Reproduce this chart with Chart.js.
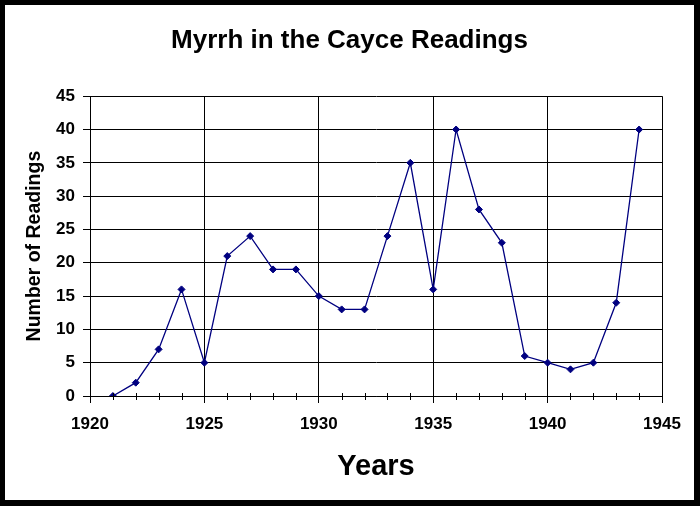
<!DOCTYPE html>
<html>
<head>
<meta charset="utf-8">
<script src="https://cdn.jsdelivr.net/npm/chart.js@4.4.0/dist/chart.umd.min.js"></script>
<style>
    html, body { margin: 0; padding: 0; background: #fff; }
    #frame {
        width: 700px;
        height: 506px;
        box-sizing: border-box;
        border-style: solid;
        border-color: #000;
        border-width: 5px 6px 6px 5px;
        background: #fff;
    }
    #wrap { position: relative; width: 689px; height: 495px; }
</style>
</head>
<body>
<div id="frame"><div id="wrap"><canvas id="myrrhChart"></canvas></div></div>
<script>
// Readings per year
const years = [1921, 1922, 1923, 1924, 1925, 1926, 1927, 1928, 1929, 1930, 1931, 1932,
               1933, 1934, 1935, 1936, 1937, 1938, 1939, 1940, 1941, 1942, 1943, 1944];
const readings = [0, 2, 7, 16, 5, 21, 24, 19, 19, 15, 13, 13,
                  24, 35, 16, 40, 28, 23, 6, 5, 4, 5, 14, 40];

const xMin = 1920, xMax = 1945;
const yMin = 0, yMax = 45;

const fontFamily = 'Arial, "Liberation Sans", sans-serif';
const navy = '#000080';

// small yearly ticks crossing the x axis
const minorTicks = {
    id: 'minorTicks',
    afterDraw(chart) {
        const x = chart.scales.x;
        const ctx = chart.ctx;
        const y0 = x.top;
        ctx.save();
        ctx.strokeStyle = '#000';
        ctx.lineWidth = 1;
        for (let v = xMin; v <= xMax; v++) {
            if (v % 5 === 0) continue;
            const px = Math.round(x.getPixelForValue(v)) + 0.5;
            ctx.beginPath();
            ctx.moveTo(px, y0 - 3);
            ctx.lineTo(px, y0 + 4);
            ctx.stroke();
        }
        ctx.restore();
    }
};

function renderChart() {
    const ctx = document.getElementById('myrrhChart').getContext('2d');

    new Chart(ctx, {
        type: 'line',
        data: {
            datasets: [{
                label: 'Readings',
                data: years.map((y, i) => ({ x: y, y: readings[i] })),
                borderColor: navy,
                backgroundColor: navy,
                borderWidth: 1.3,
                pointStyle: 'rectRot',
                pointRadius: 3.5,
                pointBorderWidth: 1,
                pointBackgroundColor: navy,
                pointBorderColor: navy,
                tension: 0
            }]
        },
        options: {
            responsive: true,
            maintainAspectRatio: false,
            animation: false,
            layout: { padding: 0 },
            scales: {
                x: {
                    type: 'linear',
                    min: xMin,
                    max: xMax,
                    afterFit: s => { s.height = 104; },
                    border: { display: true, color: '#000', width: 1 },
                    grid: {
                        color: '#000',
                        lineWidth: 1,
                        tickLength: 7,
                        tickColor: '#000'
                    },
                    ticks: {
                        stepSize: 5,
                        color: '#000',
                        padding: 11,
                        maxRotation: 0,
                        font: { family: fontFamily, size: 17, weight: 'bold' },
                        callback: v => String(v)
                    },
                    title: {
                        display: true,
                        text: 'Years',
                        color: '#000',
                        padding: { top: 0, bottom: 16 },
                        font: { family: fontFamily, size: 29, weight: 'bold' }
                    }
                },
                y: {
                    min: yMin,
                    max: yMax,
                    afterFit: s => { s.width = 85; },
                    border: { display: true, color: '#000', width: 1 },
                    grid: {
                        color: '#000',
                        lineWidth: 1,
                        tickLength: 7,
                        tickColor: '#000'
                    },
                    ticks: {
                        stepSize: 5,
                        color: '#000',
                        padding: 8,
                        font: { family: fontFamily, size: 17, weight: 'bold' }
                    },
                    title: {
                        display: true,
                        text: 'Number of Readings',
                        color: '#000',
                        padding: { top: 18, bottom: 0 },
                        font: { family: fontFamily, size: 19.5, weight: 'bold' }
                    }
                },
                // empty right-hand strip so the title stays centred on the whole box
                yRight: {
                    position: 'right',
                    display: true,
                    afterFit: s => { s.width = 32; },
                    border: { display: false },
                    grid: { display: false },
                    ticks: { display: false }
                }
            },
            plugins: {
                legend: { display: false },
                tooltip: { enabled: false },
                title: {
                    display: true,
                    text: 'Myrrh in the Cayce Readings',
                    color: '#000',
                    padding: { top: 20, bottom: 40 },
                    font: { family: fontFamily, size: 26, weight: 'bold' }
                }
            }
        },
        plugins: [minorTicks]
    });
}

document.addEventListener('DOMContentLoaded', renderChart);
</script>
</body>
</html>
